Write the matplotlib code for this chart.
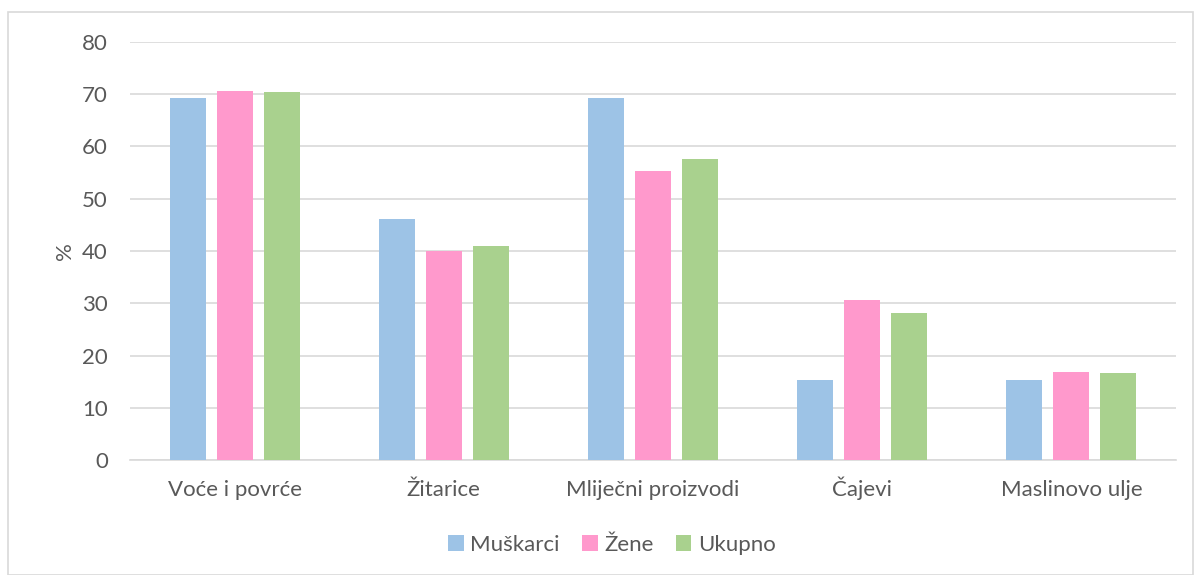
import numpy as np
import matplotlib
matplotlib.use("Agg")
import matplotlib.pyplot as plt
from matplotlib.patches import Rectangle

# categories and series (percent)
categories = ["Voće i povrće", "Žitarice", "Mliječni proizvodi", "Čajevi", "Maslinovo ulje"]
muskarci = [69.2, 46.1, 69.2, 15.4, 15.4]
zene = [70.7, 40.0, 55.3, 30.7, 16.9]
ukupno = [70.4, 41.0, 57.6, 28.2, 16.7]
series_names = ["Muškarci", "Žene", "Ukupno"]
colors = ["#9dc3e6", "#ff99cc", "#a9d18e"]

plt.rcParams['font.family'] = ['Lato', 'DejaVu Sans']
TEXT = "#595959"
GRID = "#d9d9d9"
FS = 16

fig = plt.figure(figsize=(11.94, 5.75), dpi=100)
axis = fig.add_axes([130 / 1194, 1 - 460 / 575, 1046 / 1194, 418 / 575])

# outer chart border
fig.patches.append(Rectangle((8 / 1194, 0.0), 1 - 8 / 1194 - 0.001, 1 - 12 / 575,
                             transform=fig.transFigure, fill=False,
                             edgecolor=GRID, linewidth=1.2))

x = np.arange(len(categories))
w = 0.172
step = 0.225
for k, (vals, name) in enumerate(zip([muskarci, zene, ukupno], series_names)):
    axis.bar(x + (k - 1) * step, vals, w, color=colors[k], label=name, zorder=3)

axis.set_xlim(-0.5, len(categories) - 0.5)
axis.set_ylim(0, 80)
axis.set_yticks(np.arange(0, 81, 10))
axis.yaxis.grid(True, color=GRID, linewidth=1.2, zorder=0)
axis.set_xticks(x)
axis.set_xticklabels(categories, va="baseline")
axis.tick_params(axis="both", length=0, labelsize=FS, colors=TEXT)
axis.tick_params(axis="y", pad=16)
axis.tick_params(axis="x", pad=26)
for s in ["top", "right", "left"]:
    axis.spines[s].set_visible(False)
axis.spines["bottom"].set_color(GRID)
axis.spines["bottom"].set_linewidth(1.2)
axis.set_ylabel("%", fontsize=FS, color=TEXT, labelpad=5)

fig.legend(loc="center", bbox_to_anchor=(612 / 1194, 1 - 545 / 575), ncol=3,
           frameon=False, fontsize=FS, labelcolor=TEXT, handlelength=0.7,
           handleheight=0.7, handletextpad=0.3, columnspacing=1.0)

fig.savefig("out.png", dpi=100)
